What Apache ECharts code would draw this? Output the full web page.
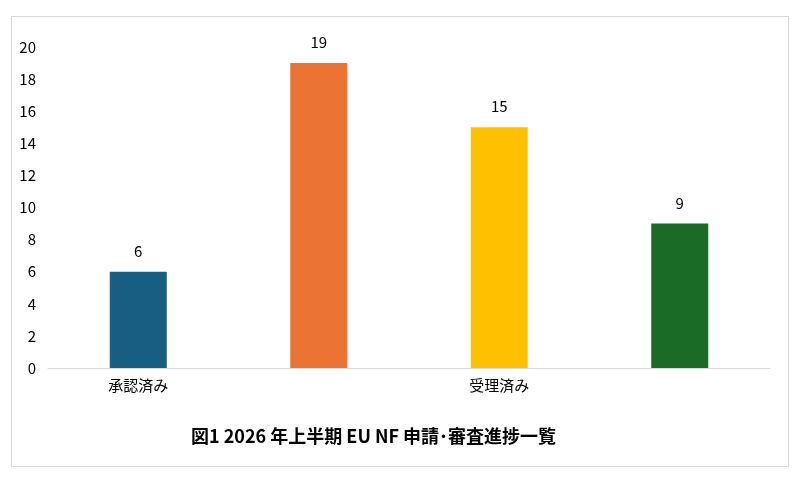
<!DOCTYPE html>
<html><head><meta charset="utf-8">
<script src="https://cdn.jsdelivr.net/npm/echarts@6/dist/echarts.min.js"></script>
<style>html,body{margin:0;padding:0;background:#fff}
#frame{position:absolute;left:11px;top:16px;width:778px;height:451px;border:1px solid #d9d9d9;box-sizing:border-box}
#c{width:802px;height:477px}</style></head>
<body><div id="frame"></div><div id="c"></div>
<script>
const categories=['承認済み','ファイル受領済み','受理済み','科学的意見書発行済み'];
const values=[6,19,15,9];
const colors=['#175e82','#eb7333','#ffc000','#1a6b26'];
const titleText='図1 2026 年上半期 EU NF 申請･審査進捗一覧';
const font='"Noto Sans CJK JP","Noto Sans",sans-serif';
const chart=echarts.init(document.getElementById('c'));
chart.setOption({
 animation:false,
 title:{text:titleText,left:186,top:422,textStyle:{fontSize:18,fontWeight:'bold',color:'#000',fontFamily:font}},
 grid:{left:48,right:32,top:47,bottom:109},
 xAxis:{type:'category',data:categories,axisLine:{lineStyle:{color:'#d9d9d9'}},axisTick:{show:false},
  axisLabel:{color:'#000',fontSize:15,fontFamily:font,margin:10}},
 yAxis:{type:'value',min:0,max:20,interval:2,splitLine:{show:false},axisLine:{show:false},
  axisLabel:{color:'#000',fontSize:15,fontFamily:font,margin:12}},
 series:[{type:'bar',barWidth:57,data:values.map((v,i)=>({value:v,itemStyle:{color:colors[i]}})),
  label:{show:true,position:'top',distance:13,color:'#000',fontSize:15,fontFamily:font}}]
});
</script></body></html>
